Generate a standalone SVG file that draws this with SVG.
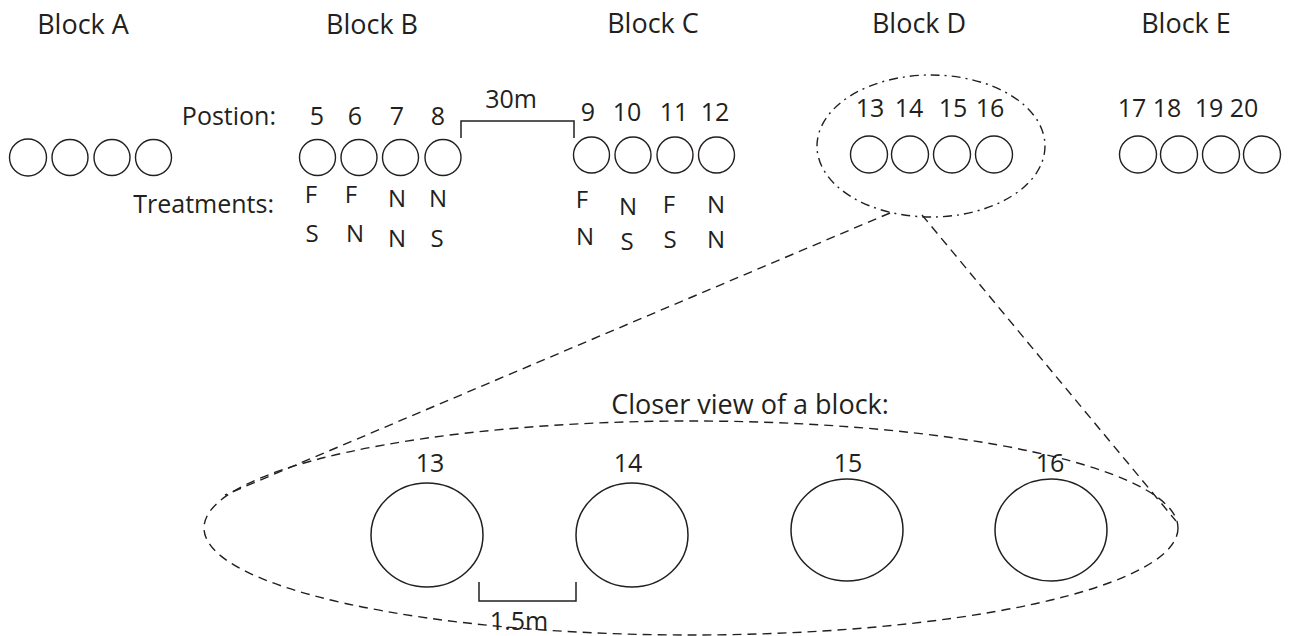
<svg xmlns="http://www.w3.org/2000/svg" width="1290" height="636" viewBox="0 0 1290 636">
<style>
text{font-family:"Open Sans","Noto Sans","Liberation Sans",sans-serif;fill:#231f20}
.t{font-size:27px;text-anchor:middle}
.lab{font-size:25px;text-anchor:end}
.n{font-size:25px;text-anchor:middle}
.tr{font-size:24px;text-anchor:middle}
.c{fill:none;stroke:#231f20;stroke-width:1.4}
.big{fill:none;stroke:#231f20;stroke-width:1.5}
.dash{fill:none;stroke:#231f20;stroke-width:1.4;stroke-dasharray:9 6}
.dd{fill:none;stroke:#231f20;stroke-width:1.4;stroke-dasharray:9 5 2 5}
.br{fill:none;stroke:#231f20;stroke-width:1.5}
</style>
<rect width="1290" height="636" fill="#fff"/>
<g id="titles">
<text class="t" x="83" y="34">Block A</text>
<text class="t" x="372" y="34">Block B</text>
<text class="t" x="653" y="33">Block C</text>
<text class="t" x="919" y="33">Block D</text>
<text class="t" x="1186" y="33">Block E</text>
</g>
<g id="row-labels">
<text class="lab" x="276" y="125">Postion:</text>
<text class="lab" x="274" y="213">Treatments:</text>
</g>
<g id="block-a">
<circle class="c" cx="28" cy="157.5" r="18.5"/>
<circle class="c" cx="70" cy="157.5" r="18"/>
<circle class="c" cx="112" cy="157.5" r="18"/>
<circle class="c" cx="153.5" cy="157.5" r="18"/>
</g>
<g id="block-b">
<circle class="c" cx="317.5" cy="157.5" r="18"/>
<circle class="c" cx="359" cy="157.5" r="18"/>
<circle class="c" cx="400.5" cy="157.5" r="18"/>
<circle class="c" cx="443" cy="157.5" r="18"/>
<text class="n" x="317" y="125">5</text>
<text class="n" x="355" y="125">6</text>
<text class="n" x="397" y="125">7</text>
<text class="n" x="438" y="125">8</text>
<text class="tr" x="311" y="203">F</text>
<text class="tr" x="312" y="242">S</text>
<text class="tr" x="351" y="203">F</text>
<text class="tr" x="355" y="242">N</text>
<text class="tr" x="397" y="207">N</text>
<text class="tr" x="397" y="247">N</text>
<text class="tr" x="438" y="207">N</text>
<text class="tr" x="437" y="247">S</text>
</g>
<g id="block-c">
<circle class="c" cx="591.5" cy="155" r="18"/>
<circle class="c" cx="633" cy="155" r="18"/>
<circle class="c" cx="675" cy="155" r="18"/>
<circle class="c" cx="716.5" cy="155" r="18"/>
<text class="n" x="588" y="121">9</text>
<text class="n" x="627" y="121">10</text>
<text class="n" x="674" y="121">11</text>
<text class="n" x="715" y="121">12</text>
<text class="tr" x="582" y="208">F</text>
<text class="tr" x="585" y="245">N</text>
<text class="tr" x="628" y="215">N</text>
<text class="tr" x="627" y="250">S</text>
<text class="tr" x="669" y="213">F</text>
<text class="tr" x="670" y="248">S</text>
<text class="tr" x="716" y="213">N</text>
<text class="tr" x="716" y="248">N</text>
</g>
<g id="block-d">
<circle class="c" cx="869" cy="154.5" r="18.5"/>
<circle class="c" cx="910" cy="154.5" r="18.5"/>
<circle class="c" cx="952" cy="154.5" r="18.5"/>
<circle class="c" cx="994" cy="154.5" r="18.5"/>
<text class="n" x="870" y="117">13</text>
<text class="n" x="909" y="117">14</text>
<text class="n" x="953" y="117">15</text>
<text class="n" x="990" y="117">16</text>
<ellipse class="dd" cx="931" cy="146" rx="114" ry="71"/>
</g>
<g id="block-e">
<circle class="c" cx="1138" cy="154.5" r="18.5"/>
<circle class="c" cx="1179" cy="154.5" r="18.5"/>
<circle class="c" cx="1221" cy="154.5" r="18.5"/>
<circle class="c" cx="1262" cy="154.5" r="18.5"/>
<text class="n" x="1132" y="117">17</text>
<text class="n" x="1167" y="117">18</text>
<text class="n" x="1209" y="117">19</text>
<text class="n" x="1244" y="117">20</text>
</g>
<g id="gap-30m">
<path class="br" d="M461 138V121H574V138"/>
<text class="n" x="511" y="108">30m</text>
</g>
<g id="connectors">
<path class="dash" d="M890 213L225 495"/>
<path class="dash" d="M922 215L1176 521"/>
</g>
<g id="closer-view">
<text class="n" x="750" y="414" style="font-size:27px">Closer view of a block:</text>
<ellipse class="dash" cx="691" cy="528" rx="487" ry="107"/>
<ellipse class="big" cx="427" cy="535" rx="56" ry="52"/>
<ellipse class="big" cx="632" cy="535" rx="56" ry="52"/>
<ellipse class="big" cx="847" cy="530" rx="56" ry="51"/>
<ellipse class="big" cx="1051" cy="530" rx="56" ry="51"/>
<text class="n" x="430" y="472">13</text>
<text class="n" x="628" y="472">14</text>
<text class="n" x="848" y="472">15</text>
<text class="n" x="1050" y="472">16</text>
<path class="br" d="M479 582V601H576V582"/>
<text class="n" x="519" y="630">1.5m</text>
</g>
</svg>
